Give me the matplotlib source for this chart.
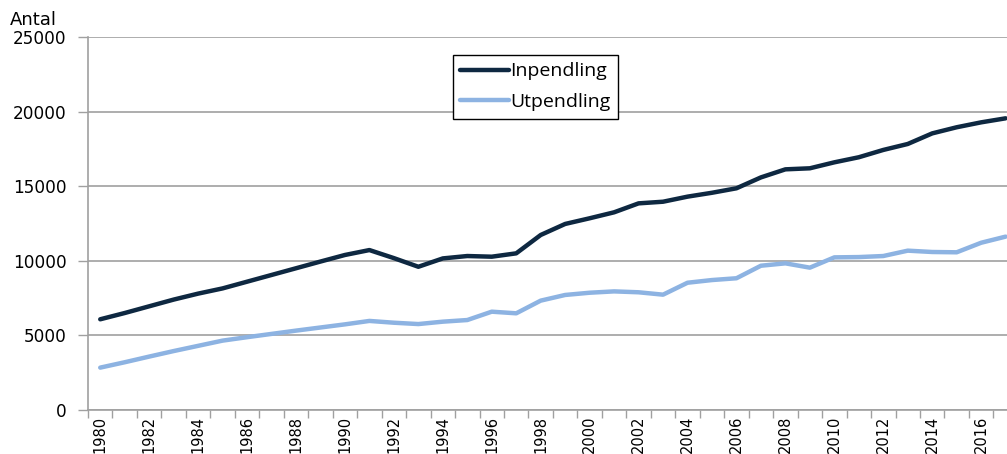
import matplotlib.pyplot as plt

# --- data ---
years = list(range(1980, 2018))
inpendling = [6080, 6500, 6950, 7400, 7800, 8150, 8600, 9050, 9500, 9950,
              10390, 10720, 10180, 9600, 10160, 10320, 10275, 10500, 11730, 12470,
              12850, 13250, 13850, 13960, 14300, 14560, 14860, 15590, 16130, 16200,
              16600, 16940, 17430, 17830, 18540, 18950, 19280, 19550]
utpendling = [2840, 3200, 3580, 3950, 4300, 4650, 4880, 5100, 5320, 5530,
              5740, 5970, 5850, 5760, 5920, 6030, 6590, 6480, 7330, 7710,
              7860, 7950, 7890, 7730, 8530, 8710, 8830, 9670, 9830, 9540,
              10230, 10250, 10320, 10680, 10590, 10570, 11210, 11620]
yticks = [0, 5000, 10000, 15000, 20000, 25000]

fig = plt.figure(figsize=(10.07, 4.54), dpi=100)
ax = fig.add_axes([88 / 1007, 44 / 454, 1 - 88 / 1007, 373 / 454])

ax.plot(years, inpendling, color="#0e2841", linewidth=3.2, label="Inpendling",
        solid_capstyle="round")
ax.plot(years, utpendling, color="#8db3e2", linewidth=3.2, label="Utpendling",
        solid_capstyle="round")

ax.set_ylim(0, 25000)
ax.set_xlim(1979.5, 1979.5 + (1007 - 88) / 24.47)

grid_c = "#a0a0a0"
ax.set_yticks(yticks)
ax.set_yticklabels([str(v) for v in yticks], fontsize=12.2, family="DejaVu Sans")
ax.yaxis.grid(True, color=grid_c, linewidth=1.2)
ax.set_axisbelow(True)
ax.tick_params(axis="y", length=7, color=grid_c, width=1, pad=8.5)

# category ticks between years, labels every second year
ax.set_xticks([y - 0.5 for y in years], minor=False)
ax.set_xticklabels([])
ax.set_xticks(years[::2], minor=True)
ax.set_xticklabels([str(y) for y in years[::2]], minor=True, rotation=90,
                   fontsize=10.5, family="DejaVu Sans")
ax.tick_params(axis="x", which="major", length=6, color=grid_c, width=1)
ax.tick_params(axis="x", which="minor", length=0, pad=4)

for s in ["top", "right"]:
    ax.spines[s].set_visible(False)
ax.spines["left"].set_color(grid_c)
ax.spines["bottom"].set_color(grid_c)
ax.spines["left"].set_linewidth(1.2)
ax.spines["bottom"].set_linewidth(1.2)

fig.text(10 / 1007, 1 - 25 / 454, "Antal", fontsize=13, family="DejaVu Sans",
         va="baseline")

leg = ax.legend(loc="upper left", bbox_to_anchor=(453 / 1007, 1 - 55 / 454),
                bbox_transform=fig.transFigure, borderaxespad=0,
                prop={"family": "Open Sans", "size": 14}, fancybox=False,
                edgecolor="black", framealpha=1, handlelength=2.5,
                handletextpad=0.08, borderpad=0.38, labelspacing=0.66)
leg.get_frame().set_linewidth(1.0)

fig.savefig("out.png", dpi=100)
